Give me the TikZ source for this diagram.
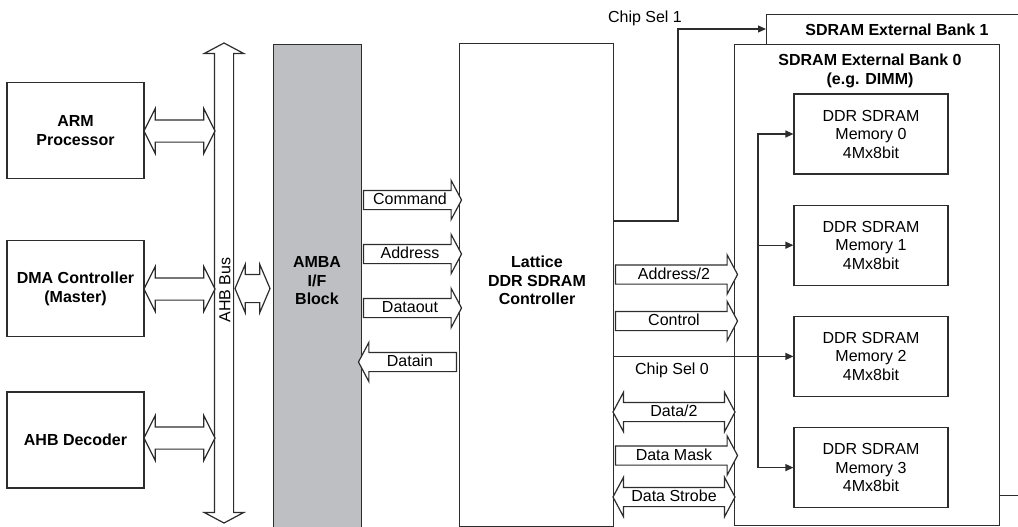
\documentclass[tikz,border=0pt]{standalone}
\usepackage{fontspec}
\setmainfont{Liberation Sans}
\usetikzlibrary{shapes.arrows,arrows.meta,positioning}

\definecolor{linec}{RGB}{45,45,45}
\definecolor{ambagray}{RGB}{190,191,195}

\tikzset{
  box/.style={draw=linec, line width=1.2pt, fill=white, inner sep=0pt, align=center},
  boldtxt/.style={font=\bfseries\fontsize{16}{18.5}\selectfont, align=center},
  sarrow/.style={single arrow, draw=linec, line width=1.2pt, fill=white,
    inner xsep=0pt, inner ysep=1.5pt, text height=12pt, text depth=3pt,
    single arrow head extend=10pt, single arrow tip angle=124},
  darrow/.style={double arrow, draw=linec, line width=1.2pt, fill=white,
    inner xsep=0pt, inner ysep=1.5pt, text height=12pt, text depth=3pt,
    double arrow head extend=10pt, double arrow tip angle=124},
  busarrow/.style={darrow, text height=0pt, text depth=0pt, inner ysep=10.5pt,
    double arrow head extend=11.5pt, double arrow tip angle=127},
  sig/.style={draw=linec, line width=1.2pt, -{Triangle[length=8pt,width=7pt]}},
}

\begin{document}
\begin{tikzpicture}[x=1pt, y=-1pt, font=\fontsize{16}{18.5}\selectfont]
\useasboundingbox (0,0) rectangle (1018,527);
\clip (0,0) rectangle (1018,527);

% masters on the AHB bus
\node[box, boldtxt, minimum width=137pt, minimum height=96pt] (arm) at (75.5,130.5) {ARM\\Processor};
\node[box, boldtxt, minimum width=137pt, minimum height=96pt, below=61pt of arm] (dma) {DMA Controller\\(Master)};
\node[box, boldtxt, minimum width=137pt, minimum height=96pt, below=54pt of dma] (dec) {AHB Decoder};

% AHB bus
\node[darrow, rotate=90, minimum height=480pt] (bus) at (224,283) {};
\node[rotate=90] (buslbl) at (225,290) {AHB Bus};

\node[busarrow, minimum height=71pt] (armbus) at (179.5,131) {};
\node[busarrow, minimum height=71pt] (dmabus) at (179.5,289) {};
\node[busarrow, minimum height=71pt] (decbus) at (179.5,438) {};

% AMBA interface
\node[box, fill=ambagray, anchor=north west, minimum width=88pt, minimum height=500pt] (amba) at (273,44) {};
\node[boldtxt] (ambalbl) at (317,281) {AMBA\\I/F\\Block};
\node[busarrow, inner ysep=13.5pt, double arrow head extend=10pt, double arrow tip angle=134,
  minimum height=35pt] (busamba) at (252.5,288.5) {};

% controller
\node[box, anchor=north west, minimum width=154pt, minimum height=483pt] (ctrl) at (459,43) {};
\node[boldtxt] (ctrllbl) at (537,280.5) {Lattice\\DDR SDRAM\\Controller};

\node[sarrow, minimum height=98pt] (cmd) at (410,200) {Command};
\node[sarrow, minimum height=98pt] (addr) at (410,254) {Address};
\node[sarrow, minimum height=98pt] (dout) at (410,308) {Dataout};
\node[sarrow, shape border rotate=180, minimum height=98pt] (din) at (410,362) {Datain};

% SDRAM banks
\node[box, anchor=north west, minimum width=320pt, minimum height=481pt] (bank1) at (766,14) {};
\node[boldtxt] (bank1lbl) at (897,30) {SDRAM External Bank 1};
\node[box, anchor=north west, minimum width=265pt, minimum height=481pt] (bank0) at (734,44) {};
\node[boldtxt] (bank0lbl) at (870,71) {SDRAM External Bank 0\\(e.g. DIMM)};

\node[box, minimum width=154pt, minimum height=80pt] (mem0) at (871,134) {DDR SDRAM\\Memory 0\\4Mx8bit};
\node[box, minimum width=154pt, minimum height=80pt, below=30pt of mem0] (mem1) {DDR SDRAM\\Memory 1\\4Mx8bit};
\node[box, minimum width=154pt, minimum height=80pt, below=30pt of mem1] (mem2) {DDR SDRAM\\Memory 2\\4Mx8bit};
\node[box, minimum width=154pt, minimum height=80pt, below=30pt of mem2] (mem3) {DDR SDRAM\\Memory 3\\4Mx8bit};

% controller to memory
\node[sarrow, minimum height=122pt] (addr2) at (674,274.5) {Address/2};
\node[sarrow, minimum height=122pt] (ctl) at (674,321) {Control};
\node[darrow, minimum height=122pt] (data2) at (674,412) {Data/2};
\node[sarrow, minimum height=122pt] (dmask) at (674,455.5) {Data Mask};
\node[darrow, minimum height=122pt] (dstrobe) at (674,497) {Data Strobe};

% chip selects
\coordinate (cs1) at (678,29);
\draw[sig] (ctrl.east |- 0,221) -| (cs1) -- (bank1.west |- cs1);
\node (cs1lbl) at (645,18) {Chip Sel 1};
\draw[sig] (ctrl.east |- mem2.west) -- (mem2.west);
\node (cs0lbl) at (672,370) {Chip Sel 0};

\coordinate (mbus) at (758,0);
\draw[sig] (mbus |- mem3.west) -- (mbus |- mem0.west) -- (mem0.west);
\draw[sig] (mbus |- mem1.west) -- (mem1.west);
\draw[sig] (mbus |- mem3.west) -- (mem3.west);

\end{tikzpicture}
\end{document}
